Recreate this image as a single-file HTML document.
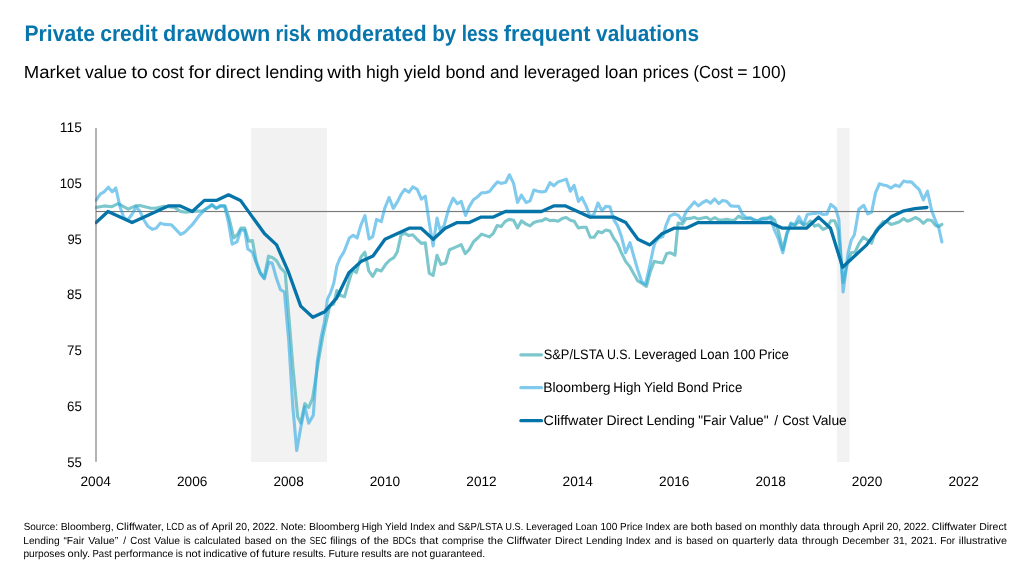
<!DOCTYPE html>
<html lang="en"><head><meta charset="utf-8"><title>Private credit drawdown risk moderated by less frequent valuations</title>
<style>html,body{margin:0;padding:0;background:#fff;}body{width:1024px;height:576px;overflow:hidden;}svg{display:block;}text{font-family:"Liberation Sans",sans-serif;fill:#000;text-rendering:geometricPrecision;}</style></head><body>
<svg width="1024" height="576" viewBox="0 0 1024 576">
<rect width="1024" height="576" fill="#fff"/>
<text y="41.0" font-size="22.43" font-weight="700" style="fill:#0876ad"><tspan x="24.49" textLength="70.46" lengthAdjust="spacingAndGlyphs">Private</tspan> <tspan x="100.16" textLength="57.51" lengthAdjust="spacingAndGlyphs">credit</tspan> <tspan x="163.00" textLength="107.31" lengthAdjust="spacingAndGlyphs">drawdown</tspan> <tspan x="275.58" textLength="35.16" lengthAdjust="spacingAndGlyphs">risk</tspan> <tspan x="316.38" textLength="110.31" lengthAdjust="spacingAndGlyphs">moderated</tspan> <tspan x="432.19" textLength="24.01" lengthAdjust="spacingAndGlyphs">by</tspan> <tspan x="461.73" textLength="36.95" lengthAdjust="spacingAndGlyphs">less</tspan> <tspan x="503.77" textLength="86.79" lengthAdjust="spacingAndGlyphs">frequent</tspan> <tspan x="596.08" textLength="102.99" lengthAdjust="spacingAndGlyphs">valuations</tspan></text>
<text y="78.0" font-size="17.64"><tspan x="23.78" textLength="56.69" lengthAdjust="spacingAndGlyphs">Market</tspan> <tspan x="85.12" textLength="41.82" lengthAdjust="spacingAndGlyphs">value</tspan> <tspan x="131.20" textLength="16.65" lengthAdjust="spacingAndGlyphs">to</tspan> <tspan x="151.95" textLength="32.02" lengthAdjust="spacingAndGlyphs">cost</tspan> <tspan x="188.47" textLength="22.64" lengthAdjust="spacingAndGlyphs">for</tspan> <tspan x="215.41" textLength="45.10" lengthAdjust="spacingAndGlyphs">direct</tspan> <tspan x="265.21" textLength="58.24" lengthAdjust="spacingAndGlyphs">lending</tspan> <tspan x="327.18" textLength="34.46" lengthAdjust="spacingAndGlyphs">with</tspan> <tspan x="366.00">high</tspan> <tspan x="403.85" textLength="36.83" lengthAdjust="spacingAndGlyphs">yield</tspan> <tspan x="445.40" textLength="39.94" lengthAdjust="spacingAndGlyphs">bond</tspan> <tspan x="489.91" textLength="29.05" lengthAdjust="spacingAndGlyphs">and</tspan> <tspan x="523.73" textLength="76.20" lengthAdjust="spacingAndGlyphs">leveraged</tspan> <tspan x="604.67" textLength="33.57" lengthAdjust="spacingAndGlyphs">loan</tspan> <tspan x="642.79" textLength="46.07" lengthAdjust="spacingAndGlyphs">prices</tspan> <tspan x="693.60" textLength="39.47" lengthAdjust="spacingAndGlyphs">(Cost</tspan> <tspan x="737.24">=</tspan> <tspan x="751.85" textLength="34.27" lengthAdjust="spacingAndGlyphs">100)</tspan></text>
<rect x="251" y="128" width="76" height="334" fill="#f2f2f2"/>
<rect x="837" y="128" width="12.5" height="334" fill="#f2f2f2"/>
<rect x="96" y="210.95" width="867.9" height="1.15" fill="#7a7a7a"/>
<text y="132.0" font-size="13.74"><tspan x="59.76" textLength="22.09" lengthAdjust="spacingAndGlyphs">115</tspan></text>
<text y="188.0" font-size="13.74"><tspan x="59.76" textLength="22.09" lengthAdjust="spacingAndGlyphs">105</tspan></text>
<text y="244.0" font-size="13.74"><tspan x="67.39" textLength="14.45" lengthAdjust="spacingAndGlyphs">95</tspan></text>
<text y="299.0" font-size="13.74"><tspan x="67.07" textLength="14.79" lengthAdjust="spacingAndGlyphs">85</tspan></text>
<text y="355.0" font-size="13.74"><tspan x="67.08" textLength="14.78" lengthAdjust="spacingAndGlyphs">75</tspan></text>
<text y="411.0" font-size="13.74"><tspan x="67.04" textLength="14.82" lengthAdjust="spacingAndGlyphs">65</tspan></text>
<text y="467.0" font-size="13.74"><tspan x="67.20" textLength="14.65" lengthAdjust="spacingAndGlyphs">55</tspan></text>
<text y="486.0" font-size="13.74"><tspan x="80.44" textLength="30.44" lengthAdjust="spacingAndGlyphs">2004</tspan></text>
<text y="486.0" font-size="13.74"><tspan x="176.99" textLength="30.37" lengthAdjust="spacingAndGlyphs">2006</tspan></text>
<text y="486.0" font-size="13.74"><tspan x="273.46" textLength="30.28" lengthAdjust="spacingAndGlyphs">2008</tspan></text>
<text y="486.0" font-size="13.74"><tspan x="369.77" textLength="30.43" lengthAdjust="spacingAndGlyphs">2010</tspan></text>
<text y="486.0" font-size="13.74"><tspan x="466.31" textLength="30.33" lengthAdjust="spacingAndGlyphs">2012</tspan></text>
<text y="486.0" font-size="13.74"><tspan x="562.54" textLength="30.44" lengthAdjust="spacingAndGlyphs">2014</tspan></text>
<text y="486.0" font-size="13.74"><tspan x="659.09" textLength="30.37" lengthAdjust="spacingAndGlyphs">2016</tspan></text>
<text y="486.0" font-size="13.74"><tspan x="755.56" textLength="30.28" lengthAdjust="spacingAndGlyphs">2018</tspan></text>
<text y="486.0" font-size="13.74"><tspan x="851.87" textLength="30.43" lengthAdjust="spacingAndGlyphs">2020</tspan></text>
<text y="486.0" font-size="13.74"><tspan x="948.41" textLength="30.33" lengthAdjust="spacingAndGlyphs">2022</tspan></text>
<defs><clipPath id="plot"><rect x="95" y="120" width="880" height="350"/></clipPath></defs>
<g clip-path="url(#plot)">
<path d="M95.9,207.5 L104.1,205.9 L111.9,206.7 L118.1,203.6 L123.6,206.7 L128.3,209.1 L135.3,205.9 L140.0,205.6 L150.9,208.3 L155.6,208.3 L164.2,206.2 L174.4,207.5 L180.6,211.4 L185.3,212.2 L192.3,211.4 L202.5,210.9 L208.8,207.5 L211.9,205.2 L216.2,208.3 L220.5,206.2 L225.2,206.2 L229.1,218.4 L233.8,238.0 L237.7,234.1 L240.8,228.1 L244.7,228.1 L248.6,241.1 L252.4,240.5 L256.3,261.6 L260.2,272.5 L264.1,278.0 L268.5,256.1 L272.7,257.7 L276.6,260.8 L280.5,267.8 L285.2,272.5 L289.9,329.1 L293.0,368.1 L297.7,416.9 L300.8,423.1 L304.8,403.6 L308.7,407.5 L312.6,398.1 L318.8,358.8 L322.7,336.9 L326.6,319.7 L329.8,305.6 L333.7,304.1 L336.8,290.5 L339.9,295.2 L344.6,296.7 L348.5,282.7 L352.4,270.2 L356.3,272.5 L361.0,256.9 L364.9,252.2 L368.8,270.9 L372.7,276.4 L376.6,269.4 L381.3,270.9 L386.0,263.9 L389.9,260.0 L393.8,257.7 L397.2,252.0 L401.1,234.8 L405.0,233.3 L408.9,235.6 L412.8,234.8 L417.2,239.5 L421.4,243.4 L425.3,242.7 L429.2,273.1 L433.1,275.5 L437.0,255.2 L440.9,264.5 L445.6,263.0 L449.5,249.7 L453.4,248.1 L461.2,244.7 L465.2,253.6 L469.1,249.7 L473.4,241.9 L477.7,238.0 L481.6,234.1 L489.4,236.9 L493.3,233.3 L497.2,225.5 L501.1,226.6 L505.0,221.6 L508.9,219.4 L513.6,220.2 L517.5,228.0 L521.4,220.9 L526.1,224.1 L530.0,225.9 L533.9,222.5 L537.8,221.2 L542.2,220.6 L545.6,218.6 L550.0,220.6 L553.8,220.2 L558.1,221.2 L562.0,218.6 L566.2,217.5 L570.3,220.2 L574.1,221.2 L578.4,228.0 L582.3,227.2 L586.2,227.2 L590.2,237.3 L594.1,237.3 L598.0,231.6 L601.9,232.7 L605.8,230.0 L610.0,231.1 L613.6,238.1 L617.5,243.6 L621.4,252.8 L625.6,261.4 L630.0,266.9 L633.9,273.9 L637.8,280.9 L641.7,283.3 L646.4,286.4 L650.3,271.6 L654.2,261.4 L658.1,262.2 L662.8,263.0 L666.7,253.6 L670.6,252.8 L675.0,255.2 L678.1,223.1 L682.3,224.1 L686.2,218.6 L690.2,218.4 L694.4,217.3 L698.4,219.1 L702.7,218.0 L706.6,217.3 L710.5,220.0 L714.7,217.7 L718.8,220.0 L722.5,220.0 L726.6,219.2 L730.8,220.3 L734.7,220.0 L738.6,216.1 L742.5,218.4 L746.4,218.8 L750.3,218.4 L754.2,220.0 L758.1,220.8 L762.0,218.4 L766.7,218.1 L770.6,216.6 L774.5,220.0 L778.4,230.9 L782.8,249.7 L787.0,232.5 L790.9,223.1 L794.8,225.5 L798.8,221.6 L803.4,224.4 L807.3,223.9 L810.5,220.8 L814.4,226.2 L818.3,224.7 L823.0,229.4 L826.9,227.8 L830.8,220.8 L834.7,220.8 L838.0,229.4 L840.3,251.2 L843.1,282.5 L845.8,270.0 L848.1,260.6 L851.2,252.8 L855.2,252.0 L859.1,243.4 L863.4,237.2 L867.7,240.3 L871.6,243.4 L875.5,230.9 L879.4,226.2 L883.3,221.6 L887.2,221.7 L891.1,224.4 L895.3,223.3 L899.4,221.7 L903.6,218.6 L907.5,221.2 L911.4,219.7 L915.3,217.5 L919.2,219.4 L923.4,223.3 L927.5,219.7 L931.7,220.6 L935.6,225.6 L938.8,226.4 L941.9,224.4" stroke="#7cc7cc" stroke-width="3.1" fill="none" stroke-linejoin="round" stroke-linecap="round"/>
<path d="M95.9,200.5 L100.2,194.2 L104.1,191.9 L108.4,187.2 L112.2,191.9 L115.8,188.0 L120.0,206.7 L123.6,216.9 L127.5,220.3 L131.9,214.5 L136.1,206.7 L140.0,211.4 L143.9,220.0 L147.8,226.2 L152.5,229.4 L156.4,228.1 L160.3,223.1 L164.2,224.4 L171.2,224.7 L180.6,234.4 L184.5,232.5 L192.3,224.7 L199.4,215.3 L205.6,209.1 L211.9,204.4 L216.2,208.3 L220.5,205.6 L224.4,205.6 L228.3,221.6 L232.2,244.2 L236.9,241.9 L240.8,230.2 L244.7,230.2 L247.8,248.9 L252.4,252.2 L256.3,263.1 L260.2,273.3 L264.4,278.8 L268.8,262.3 L272.2,263.1 L276.6,278.8 L280.5,289.7 L284.4,292.0 L288.7,340.0 L292.7,405.0 L296.7,450.5 L300.7,428.0 L304.8,406.7 L308.7,423.1 L313.3,415.3 L317.2,362.0 L321.2,336.9 L324.3,322.8 L327.4,299.4 L330.5,292.8 L333.7,283.4 L336.8,266.2 L339.9,258.4 L343.8,252.2 L349.3,238.1 L353.2,235.3 L357.1,238.1 L361.0,224.8 L364.9,215.5 L369.1,238.9 L372.7,236.6 L376.6,219.4 L381.3,221.7 L384.7,208.4 L389.1,197.5 L393.3,208.4 L397.2,202.2 L401.1,194.4 L404.7,189.4 L408.9,192.3 L412.8,186.9 L417.2,189.4 L421.4,199.1 L425.3,196.2 L429.2,222.5 L433.1,245.9 L437.0,218.1 L440.2,230.3 L444.1,225.6 L448.8,208.4 L453.1,198.3 L457.3,203.8 L461.2,201.4 L465.6,215.5 L469.1,206.9 L473.4,199.8 L477.7,196.7 L481.6,192.8 L485.5,192.8 L489.4,191.6 L493.3,186.6 L497.5,181.9 L501.1,183.4 L505.8,182.2 L509.4,174.8 L513.6,183.4 L517.5,202.5 L521.4,195.2 L526.1,202.5 L530.0,200.9 L533.9,190.0 L537.8,191.2 L542.2,192.0 L545.6,191.2 L550.0,182.7 L553.8,185.8 L558.1,181.9 L562.0,180.6 L566.2,179.1 L570.3,191.2 L574.1,185.3 L578.4,201.4 L581.9,197.5 L586.2,206.1 L590.2,217.0 L594.1,213.9 L598.0,203.0 L601.9,210.8 L605.8,206.4 L610.0,206.9 L613.6,219.4 L617.5,225.6 L621.4,236.4 L625.6,252.8 L630.0,242.7 L633.9,256.7 L637.8,270.0 L641.7,281.7 L645.6,284.1 L649.5,266.9 L653.4,248.1 L655.0,242.8 L658.9,238.1 L662.8,236.6 L665.9,225.6 L669.8,216.2 L674.5,213.9 L678.4,215.5 L682.3,220.9 L686.2,211.6 L690.2,206.7 L694.4,202.0 L698.4,205.9 L702.7,202.5 L706.6,200.5 L710.5,203.1 L714.7,198.9 L718.8,203.6 L722.5,200.5 L726.6,201.2 L730.8,205.9 L734.7,206.2 L738.6,206.2 L742.5,214.5 L746.4,217.7 L750.3,217.7 L754.2,220.0 L758.1,220.8 L762.0,219.2 L766.7,219.2 L770.6,217.7 L774.5,230.2 L778.4,238.8 L782.8,252.8 L787.0,234.1 L790.9,223.9 L794.8,224.7 L798.8,216.6 L803.4,224.7 L807.3,214.5 L811.2,213.8 L815.2,213.4 L819.1,212.5 L823.0,214.5 L826.9,214.1 L830.8,204.4 L835.5,208.3 L838.8,219.4 L841.1,259.1 L843.1,291.9 L845.8,271.6 L848.1,252.8 L851.2,240.3 L854.4,234.8 L858.8,209.2 L863.8,205.3 L867.7,213.9 L871.6,212.3 L875.5,192.8 L879.4,183.8 L883.3,185.0 L887.2,185.8 L891.1,188.1 L895.3,185.0 L899.4,186.6 L903.6,181.1 L907.5,181.9 L911.4,181.9 L915.3,185.8 L919.2,189.7 L923.4,199.8 L927.5,191.2 L931.7,210.8 L935.6,220.9 L938.8,228.0 L941.9,242.0" stroke="#2ba7e3" stroke-opacity="0.6" stroke-width="3.1" fill="none" stroke-linejoin="round" stroke-linecap="round"/>
<path d="M96.0,222.6 L108.0,211.5 L120.1,217.1 L132.1,222.6 L144.2,217.1 L156.2,211.5 L168.2,205.9 L180.3,205.9 L192.3,211.5 L204.4,200.4 L216.4,200.4 L228.5,194.8 L240.5,200.4 L252.5,217.1 L264.6,233.8 L276.6,244.9 L288.7,272.7 L300.7,306.1 L312.8,317.3 L324.8,311.7 L336.8,297.8 L348.9,272.7 L360.9,261.6 L373.0,256.0 L385.0,239.3 L397.0,233.8 L409.1,228.2 L421.1,228.2 L433.2,239.3 L445.2,228.2 L457.2,222.6 L469.3,222.6 L481.3,217.1 L493.4,217.1 L505.4,211.5 L517.5,211.5 L529.5,211.5 L541.5,211.5 L553.6,205.9 L565.6,205.9 L577.7,211.5 L589.7,217.1 L601.8,217.1 L613.8,217.1 L625.8,222.6 L637.9,239.3 L649.9,244.9 L662.0,233.8 L674.0,228.2 L686.0,228.2 L698.1,222.6 L710.1,222.6 L722.2,222.6 L734.2,222.6 L746.2,222.6 L758.3,222.6 L770.3,222.6 L782.4,228.2 L794.4,228.2 L806.5,228.2 L818.5,217.1 L830.5,228.2 L842.6,267.2 L854.6,256.0 L866.7,244.9 L878.7,228.2 L890.8,217.1 L902.8,211.2 L914.8,208.7 L926.9,207.5" stroke="#0574a8" stroke-width="3.3" fill="none" stroke-linejoin="round" stroke-linecap="round"/>
</g>
<rect x="95" y="127.9" width="2" height="333.9" fill="#595959" fill-opacity="0.46"/>
<path d="M520.9,354.8 L541.5,354.8" stroke="#7cc7cc" stroke-width="3.3" stroke-linecap="round" fill="none"/>
<text y="358.9" font-size="13.74"><tspan x="543.73" textLength="59.71" lengthAdjust="spacingAndGlyphs">S&amp;P/LSTA</tspan> <tspan x="606.92" textLength="24.05" lengthAdjust="spacingAndGlyphs">U.S.</tspan> <tspan x="634.12" textLength="62.41" lengthAdjust="spacingAndGlyphs">Leveraged</tspan> <tspan x="700.04" textLength="29.15" lengthAdjust="spacingAndGlyphs">Loan</tspan> <tspan x="732.89" textLength="22.58" lengthAdjust="spacingAndGlyphs">100</tspan> <tspan x="758.69" textLength="30.15" lengthAdjust="spacingAndGlyphs">Price</tspan></text>
<path d="M520.9,387.7 L541.5,387.7" stroke="#80caee" stroke-width="3.3" stroke-linecap="round" fill="none"/>
<text y="391.8" font-size="13.74"><tspan x="543.16" textLength="67.46" lengthAdjust="spacingAndGlyphs">Bloomberg</tspan> <tspan x="613.27" textLength="27.64" lengthAdjust="spacingAndGlyphs">High</tspan> <tspan x="644.04" textLength="29.50" lengthAdjust="spacingAndGlyphs">Yield</tspan> <tspan x="677.04" textLength="31.56" lengthAdjust="spacingAndGlyphs">Bond</tspan> <tspan x="712.15" textLength="30.15" lengthAdjust="spacingAndGlyphs">Price</tspan></text>
<path d="M520.9,420.7 L541.5,420.7" stroke="#0574a8" stroke-width="3.3" stroke-linecap="round" fill="none"/>
<text y="424.8" font-size="13.74"><tspan x="543.57" textLength="59.57" lengthAdjust="spacingAndGlyphs">Cliffwater</tspan> <tspan x="606.44" textLength="36.53" lengthAdjust="spacingAndGlyphs">Direct</tspan> <tspan x="646.40" textLength="48.42" lengthAdjust="spacingAndGlyphs">Lending</tspan> <tspan x="698.30" textLength="27.83" lengthAdjust="spacingAndGlyphs">"Fair</tspan> <tspan x="729.56">Value"</tspan> <tspan x="774.22">/</tspan> <tspan x="782.23" textLength="26.68" lengthAdjust="spacingAndGlyphs">Cost</tspan> <tspan x="812.43" textLength="34.39" lengthAdjust="spacingAndGlyphs">Value</tspan></text>
<text y="530.3" font-size="10.30"><tspan x="23.65" textLength="34.38" lengthAdjust="spacingAndGlyphs">Source:</tspan> <tspan x="60.65" textLength="53.11" lengthAdjust="spacingAndGlyphs">Bloomberg,</tspan> <tspan x="116.15" textLength="47.75" lengthAdjust="spacingAndGlyphs">Cliffwater,</tspan> <tspan x="166.47" textLength="17.59" lengthAdjust="spacingAndGlyphs">LCD</tspan> <tspan x="186.84" textLength="9.63" lengthAdjust="spacingAndGlyphs">as</tspan> <tspan x="199.23" textLength="9.29" lengthAdjust="spacingAndGlyphs">of</tspan> <tspan x="211.40" textLength="21.30" lengthAdjust="spacingAndGlyphs">April</tspan> <tspan x="235.53">20,</tspan> <tspan x="252.45">2022.</tspan> <tspan x="280.69" textLength="25.68" lengthAdjust="spacingAndGlyphs">Note:</tspan> <tspan x="308.91" textLength="50.60" lengthAdjust="spacingAndGlyphs">Bloomberg</tspan> <tspan x="361.74" textLength="20.74" lengthAdjust="spacingAndGlyphs">High</tspan> <tspan x="385.06" textLength="22.13" lengthAdjust="spacingAndGlyphs">Yield</tspan> <tspan x="410.06" textLength="25.03" lengthAdjust="spacingAndGlyphs">Index</tspan> <tspan x="437.90" textLength="16.97" lengthAdjust="spacingAndGlyphs">and</tspan> <tspan x="457.65" textLength="44.80" lengthAdjust="spacingAndGlyphs">S&amp;P/LSTA</tspan> <tspan x="505.28" textLength="18.04" lengthAdjust="spacingAndGlyphs">U.S.</tspan> <tspan x="525.92" textLength="46.82" lengthAdjust="spacingAndGlyphs">Leveraged</tspan> <tspan x="575.61" textLength="21.87" lengthAdjust="spacingAndGlyphs">Loan</tspan> <tspan x="600.48" textLength="16.94" lengthAdjust="spacingAndGlyphs">100</tspan> <tspan x="620.07" textLength="22.62" lengthAdjust="spacingAndGlyphs">Price</tspan> <tspan x="645.39" textLength="25.03" lengthAdjust="spacingAndGlyphs">Index</tspan> <tspan x="673.22">are</tspan> <tspan x="690.89" textLength="21.38" lengthAdjust="spacingAndGlyphs">both</tspan> <tspan x="715.15" textLength="26.78" lengthAdjust="spacingAndGlyphs">based</tspan> <tspan x="744.81" textLength="11.83" lengthAdjust="spacingAndGlyphs">on</tspan> <tspan x="759.49" textLength="37.87" lengthAdjust="spacingAndGlyphs">monthly</tspan> <tspan x="800.16" textLength="19.70" lengthAdjust="spacingAndGlyphs">data</tspan> <tspan x="823.34" textLength="36.48" lengthAdjust="spacingAndGlyphs">through</tspan> <tspan x="862.59" textLength="21.30" lengthAdjust="spacingAndGlyphs">April</tspan> <tspan x="886.73">20,</tspan> <tspan x="903.64">2022.</tspan> <tspan x="931.78" textLength="44.69" lengthAdjust="spacingAndGlyphs">Cliffwater</tspan> <tspan x="979.17" textLength="27.41" lengthAdjust="spacingAndGlyphs">Direct</tspan></text>
<text y="543.6" font-size="10.30"><tspan x="23.26" textLength="36.32" lengthAdjust="spacingAndGlyphs">Lending</tspan> <tspan x="63.48" textLength="21.00" lengthAdjust="spacingAndGlyphs">“Fair</tspan> <tspan x="88.25" textLength="30.09" lengthAdjust="spacingAndGlyphs">Value”</tspan> <tspan x="123.16">/</tspan> <tspan x="130.37" textLength="20.01" lengthAdjust="spacingAndGlyphs">Cost</tspan> <tspan x="154.23" textLength="25.80" lengthAdjust="spacingAndGlyphs">Value</tspan> <tspan x="183.68" textLength="6.97" lengthAdjust="spacingAndGlyphs">is</tspan> <tspan x="194.35">calculated</tspan> <tspan x="244.73" textLength="26.78" lengthAdjust="spacingAndGlyphs">based</tspan> <tspan x="275.36" textLength="11.83" lengthAdjust="spacingAndGlyphs">on</tspan> <tspan x="290.94" textLength="15.27" lengthAdjust="spacingAndGlyphs">the</tspan> <tspan x="309.80" textLength="16.75" lengthAdjust="spacingAndGlyphs">SEC</tspan> <tspan x="330.17" textLength="26.68" lengthAdjust="spacingAndGlyphs">filings</tspan> <tspan x="360.53" textLength="9.29" lengthAdjust="spacingAndGlyphs">of</tspan> <tspan x="373.67" textLength="15.27" lengthAdjust="spacingAndGlyphs">the</tspan> <tspan x="392.65" textLength="23.22" lengthAdjust="spacingAndGlyphs">BDCs</tspan> <tspan x="419.68" textLength="18.62" lengthAdjust="spacingAndGlyphs">that</tspan> <tspan x="442.08" textLength="42.02" lengthAdjust="spacingAndGlyphs">comprise</tspan> <tspan x="487.80" textLength="15.27" lengthAdjust="spacingAndGlyphs">the</tspan> <tspan x="506.55" textLength="44.69" lengthAdjust="spacingAndGlyphs">Cliffwater</tspan> <tspan x="554.91" textLength="27.41" lengthAdjust="spacingAndGlyphs">Direct</tspan> <tspan x="586.09" textLength="36.32" lengthAdjust="spacingAndGlyphs">Lending</tspan> <tspan x="625.65" textLength="25.03" lengthAdjust="spacingAndGlyphs">Index</tspan> <tspan x="654.46" textLength="16.97" lengthAdjust="spacingAndGlyphs">and</tspan> <tspan x="675.26" textLength="6.97" lengthAdjust="spacingAndGlyphs">is</tspan> <tspan x="686.14" textLength="26.78" lengthAdjust="spacingAndGlyphs">based</tspan> <tspan x="716.77" textLength="11.83" lengthAdjust="spacingAndGlyphs">on</tspan> <tspan x="732.28" textLength="41.90" lengthAdjust="spacingAndGlyphs">quarterly</tspan> <tspan x="777.95" textLength="19.70" lengthAdjust="spacingAndGlyphs">data</tspan> <tspan x="802.10" textLength="36.48" lengthAdjust="spacingAndGlyphs">through</tspan> <tspan x="842.22" textLength="47.11" lengthAdjust="spacingAndGlyphs">December</tspan> <tspan x="893.24" textLength="14.20" lengthAdjust="spacingAndGlyphs">31,</tspan> <tspan x="910.98">2021.</tspan> <tspan x="940.20" textLength="14.97" lengthAdjust="spacingAndGlyphs">For</tspan> <tspan x="958.83" textLength="48.15" lengthAdjust="spacingAndGlyphs">illustrative</tspan></text>
<text y="556.7" font-size="10.30"><tspan x="23.45" textLength="41.67" lengthAdjust="spacingAndGlyphs">purposes</tspan> <tspan x="67.62" textLength="22.53" lengthAdjust="spacingAndGlyphs">only.</tspan> <tspan x="92.47" textLength="19.14" lengthAdjust="spacingAndGlyphs">Past</tspan> <tspan x="114.36" textLength="59.07" lengthAdjust="spacingAndGlyphs">performance</tspan> <tspan x="175.85" textLength="6.97" lengthAdjust="spacingAndGlyphs">is</tspan> <tspan x="185.40" textLength="15.40" lengthAdjust="spacingAndGlyphs">not</tspan> <tspan x="203.34" textLength="44.14" lengthAdjust="spacingAndGlyphs">indicative</tspan> <tspan x="249.89" textLength="9.29" lengthAdjust="spacingAndGlyphs">of</tspan> <tspan x="261.77" textLength="28.53" lengthAdjust="spacingAndGlyphs">future</tspan> <tspan x="292.77" textLength="33.45" lengthAdjust="spacingAndGlyphs">results.</tspan> <tspan x="328.45" textLength="30.31" lengthAdjust="spacingAndGlyphs">Future</tspan> <tspan x="361.26">results</tspan> <tspan x="394.23">are</tspan> <tspan x="411.61" textLength="15.40" lengthAdjust="spacingAndGlyphs">not</tspan> <tspan x="429.56" textLength="55.58" lengthAdjust="spacingAndGlyphs">guaranteed.</tspan></text>
</svg></body></html>
